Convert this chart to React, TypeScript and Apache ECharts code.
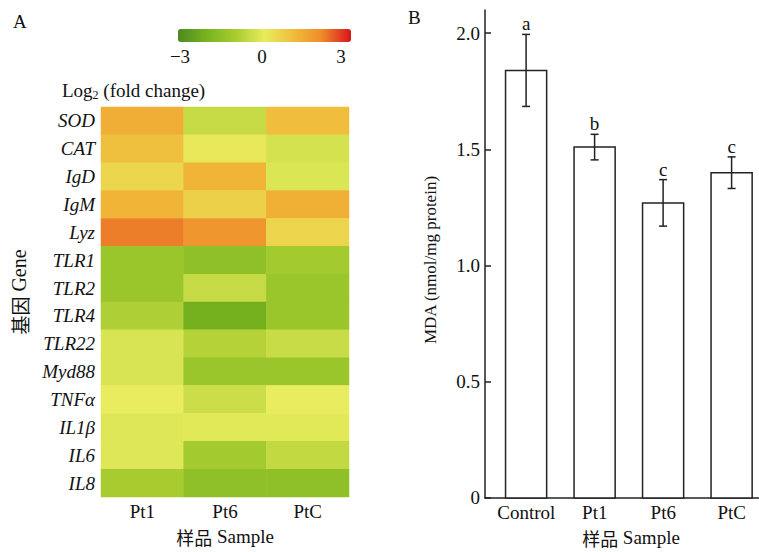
import React, { useEffect, useRef } from 'react';
import * as echarts from 'echarts';

// ---- Panel A: heatmap data ----
const genes = ['SOD', 'CAT', 'IgD', 'IgM', 'Lyz', 'TLR1', 'TLR2', 'TLR4', 'TLR22', 'Myd88', 'TNFα', 'IL1β', 'IL6', 'IL8'];
const samples = ['Pt1', 'Pt6', 'PtC'];
const pt1Fold = [1.28, 0.92, 0.45, 1.16, 2.1, -1.3, -1.3, -0.9, -0.25, -0.25, 0.0, -0.15, -0.15, -1.0];
const pt6Fold = [-0.55, 0.1, 1.16, 0.58, 1.75, -1.5, -0.55, -2.1, -0.8, -1.3, -0.45, -0.1, -1.1, -1.5];
const ptcFold = [0.95, -0.3, -0.2, 1.24, 0.5, -1.1, -1.3, -1.3, -0.5, -1.3, 0.0, -0.1, -0.6, -1.5];
const colorTickLabels = ['−3', '0', '3'];
const colorStops = ['#4b8a1f', '#78b41e', '#a8cc30', '#e8ec5e', '#f0bc3a', '#ef8a2a', '#d7141c'];

// ---- Panel B: MDA data ----
const mdaGroups = ['Control', 'Pt1', 'Pt6', 'PtC'];
const mdaMean = [1.84, 1.51, 1.27, 1.4];
const mdaErr = [0.155, 0.055, 0.1, 0.068];
const mdaLetters = ['a', 'b', 'c', 'c'];
const mdaTicks = [0, 0.5, 1.0, 1.5, 2.0];

const SERIF = "'Liberation Serif', serif";
const CJK = "'Noto Sans CJK SC', sans-serif";
const FONT = "'Liberation Serif', 'Noto Sans CJK SC', serif";
const FS = 19;
const INK = '#111';

const mixedRich = (size: number) => ({
  c: { fontFamily: CJK, fontSize: size - 1, color: INK },
  l: { fontFamily: SERIF, fontSize: size, color: INK },
});

export default function App() {
  const ref = useRef<HTMLDivElement>(null);
  useEffect(() => {
    if (!ref.current) return;
    const chart = echarts.init(ref.current, undefined, { renderer: 'svg' });

    const foldCols = [pt1Fold, pt6Fold, ptcFold];
    const heatData: number[][] = [];
    foldCols.forEach((col, xi) => col.forEach((v, yi) => heatData.push([xi, yi, v])));

    const barData = mdaMean.map((m, i) => [i, m, mdaErr[i]]);

    const option: any = {
      animation: false,
      backgroundColor: '#fff',
      textStyle: { fontFamily: FONT, color: INK },
      grid: [
        { left: 101, top: 107, width: 248, height: 390 },
        { left: 485, top: 10, width: 276, height: 488 },
      ],
      visualMap: {
        type: 'continuous',
        seriesIndex: 0,
        min: -3,
        max: 3,
        orient: 'horizontal',
        left: 178,
        top: 29,
        padding: 0,
        itemWidth: 13,
        itemHeight: 173,
        calculable: false,
        hoverLink: false,
        showLabel: false,
        text: null,
        inRange: { color: colorStops },
      },
      xAxis: [
        {
          gridIndex: 0,
          type: 'category',
          data: samples,
          axisLine: { show: false },
          axisTick: { show: false },
          axisLabel: { fontFamily: SERIF, fontSize: FS, color: INK, margin: 5, interval: 0 },
          name: '{c|样品} {l|Sample}',
          nameLocation: 'middle',
          nameGap: 30,
          nameTextStyle: { fontFamily: FONT, fontSize: FS, color: INK, rich: mixedRich(FS) },
        },
        {
          gridIndex: 1,
          type: 'category',
          data: mdaGroups,
          axisLine: { show: true, lineStyle: { color: '#222', width: 1.5 } },
          axisTick: { show: false },
          axisLabel: { fontFamily: SERIF, fontSize: FS, color: INK, margin: 5, interval: 0, padding: [0, 0, 0, 14] },
          name: '{c|样品} {l|Sample}',
          nameLocation: 'middle',
          nameGap: 30,
          nameTextStyle: { fontFamily: FONT, fontSize: FS, color: INK, padding: [0, 0, 0, 18], rich: mixedRich(FS) },
        },
      ],
      yAxis: [
        {
          gridIndex: 0,
          type: 'category',
          data: genes,
          inverse: true,
          axisLine: { show: false },
          axisTick: { show: false },
          axisLabel: { fontFamily: SERIF, fontSize: FS, fontStyle: 'italic', color: INK, margin: 6, interval: 0 },
          name: '{c|基因} {l|Gene}',
          nameLocation: 'middle',
          nameRotate: 90,
          nameGap: 72,
          nameTextStyle: { fontFamily: FONT, fontSize: 20, color: INK, padding: [0, 0, 0, 20], rich: mixedRich(20) },
        },
        {
          gridIndex: 1,
          type: 'value',
          min: 0,
          max: 2.1,
          interval: 0.5,
          axisLine: { show: true, lineStyle: { color: '#222', width: 1.5 } },
          axisTick: { show: true, inside: true, length: 6, customValues: mdaTicks, lineStyle: { color: '#222', width: 1.5 } },
          axisLabel: {
            fontFamily: SERIF,
            fontSize: FS,
            color: INK,
            margin: 5,
            customValues: mdaTicks,
            formatter: (v: number) => (v === 0 ? '0' : v.toFixed(1)),
          },
          splitLine: { show: false },
          name: 'MDA (nmol/mg protein)',
          nameLocation: 'middle',
          nameRotate: 90,
          nameGap: 46,
          nameTextStyle: { fontFamily: SERIF, fontSize: 17, color: INK, padding: [0, 12, 0, 0] },
        },
      ],
      series: [
        {
          type: 'heatmap',
          xAxisIndex: 0,
          yAxisIndex: 0,
          data: heatData,
          itemStyle: { borderWidth: 0 },
          emphasis: { disabled: true },
        },
        {
          type: 'custom',
          xAxisIndex: 1,
          yAxisIndex: 1,
          data: barData,
          encode: { x: 0, y: 1 },
          clip: false,
          renderItem: (params: any, api: any) => {
            const i = api.value(0);
            const mean = api.value(1);
            const err = api.value(2);
            const band = api.size([1, 0])[0];
            const shift = band * 0.1;
            const bw = band * 0.6;
            const p0 = api.coord([i, 0]);
            const pm = api.coord([i, mean]);
            const ph = api.coord([i, mean + err]);
            const pl = api.coord([i, mean - err]);
            const cx = p0[0] + shift;
            const cap = 4;
            const st = { stroke: '#222', lineWidth: 1.5 };
            return {
              type: 'group',
              children: [
                { type: 'rect', shape: { x: cx - bw / 2, y: pm[1], width: bw, height: p0[1] - pm[1] }, style: { fill: '#fff', stroke: '#222', lineWidth: 1.5 } },
                { type: 'line', shape: { x1: cx, y1: ph[1], x2: cx, y2: pl[1] }, style: st },
                { type: 'line', shape: { x1: cx - cap, y1: ph[1], x2: cx + cap, y2: ph[1] }, style: st },
                { type: 'line', shape: { x1: cx - cap, y1: pl[1], x2: cx + cap, y2: pl[1] }, style: st },
                {
                  type: 'text',
                  x: cx,
                  y: ph[1] - 1,
                  style: { text: mdaLetters[i], textAlign: 'center', textVerticalAlign: 'bottom', fontFamily: SERIF, fontSize: FS, fill: INK },
                },
              ],
            };
          },
        },
      ],
      graphic: [
        { type: 'text', left: 13, top: 12, style: { text: 'A', fontFamily: SERIF, fontSize: FS, fill: INK } },
        { type: 'text', left: 408, top: 8, style: { text: 'B', fontFamily: SERIF, fontSize: FS, fill: INK } },
        { type: 'text', x: 180, y: 56, style: { text: colorTickLabels[0], textAlign: 'center', textVerticalAlign: 'middle', fontFamily: SERIF, fontSize: FS, fill: INK } },
        { type: 'text', x: 262, y: 56, style: { text: colorTickLabels[1], textAlign: 'center', textVerticalAlign: 'middle', fontFamily: SERIF, fontSize: FS, fill: INK } },
        { type: 'text', x: 341, y: 56, style: { text: colorTickLabels[2], textAlign: 'center', textVerticalAlign: 'middle', fontFamily: SERIF, fontSize: FS, fill: INK } },
        {
          type: 'text',
          x: 62,
          y: 79,
          style: {
            text: '{a|Log}{s|2}{a| (fold change)}',
            fontFamily: SERIF,
            fill: INK,
            rich: {
              a: { fontFamily: SERIF, fontSize: FS, lineHeight: 22, color: INK, verticalAlign: 'middle' },
              s: { fontFamily: SERIF, fontSize: 12, lineHeight: 22, color: INK, verticalAlign: 'bottom' },
            },
          },
        },
      ],
    };

    chart.setOption(option);
    return () => chart.dispose();
  }, []);

  return <div ref={ref} style={{ position: 'fixed', left: 0, top: 0, width: 759, height: 552, background: '#fff' }} />;
}
